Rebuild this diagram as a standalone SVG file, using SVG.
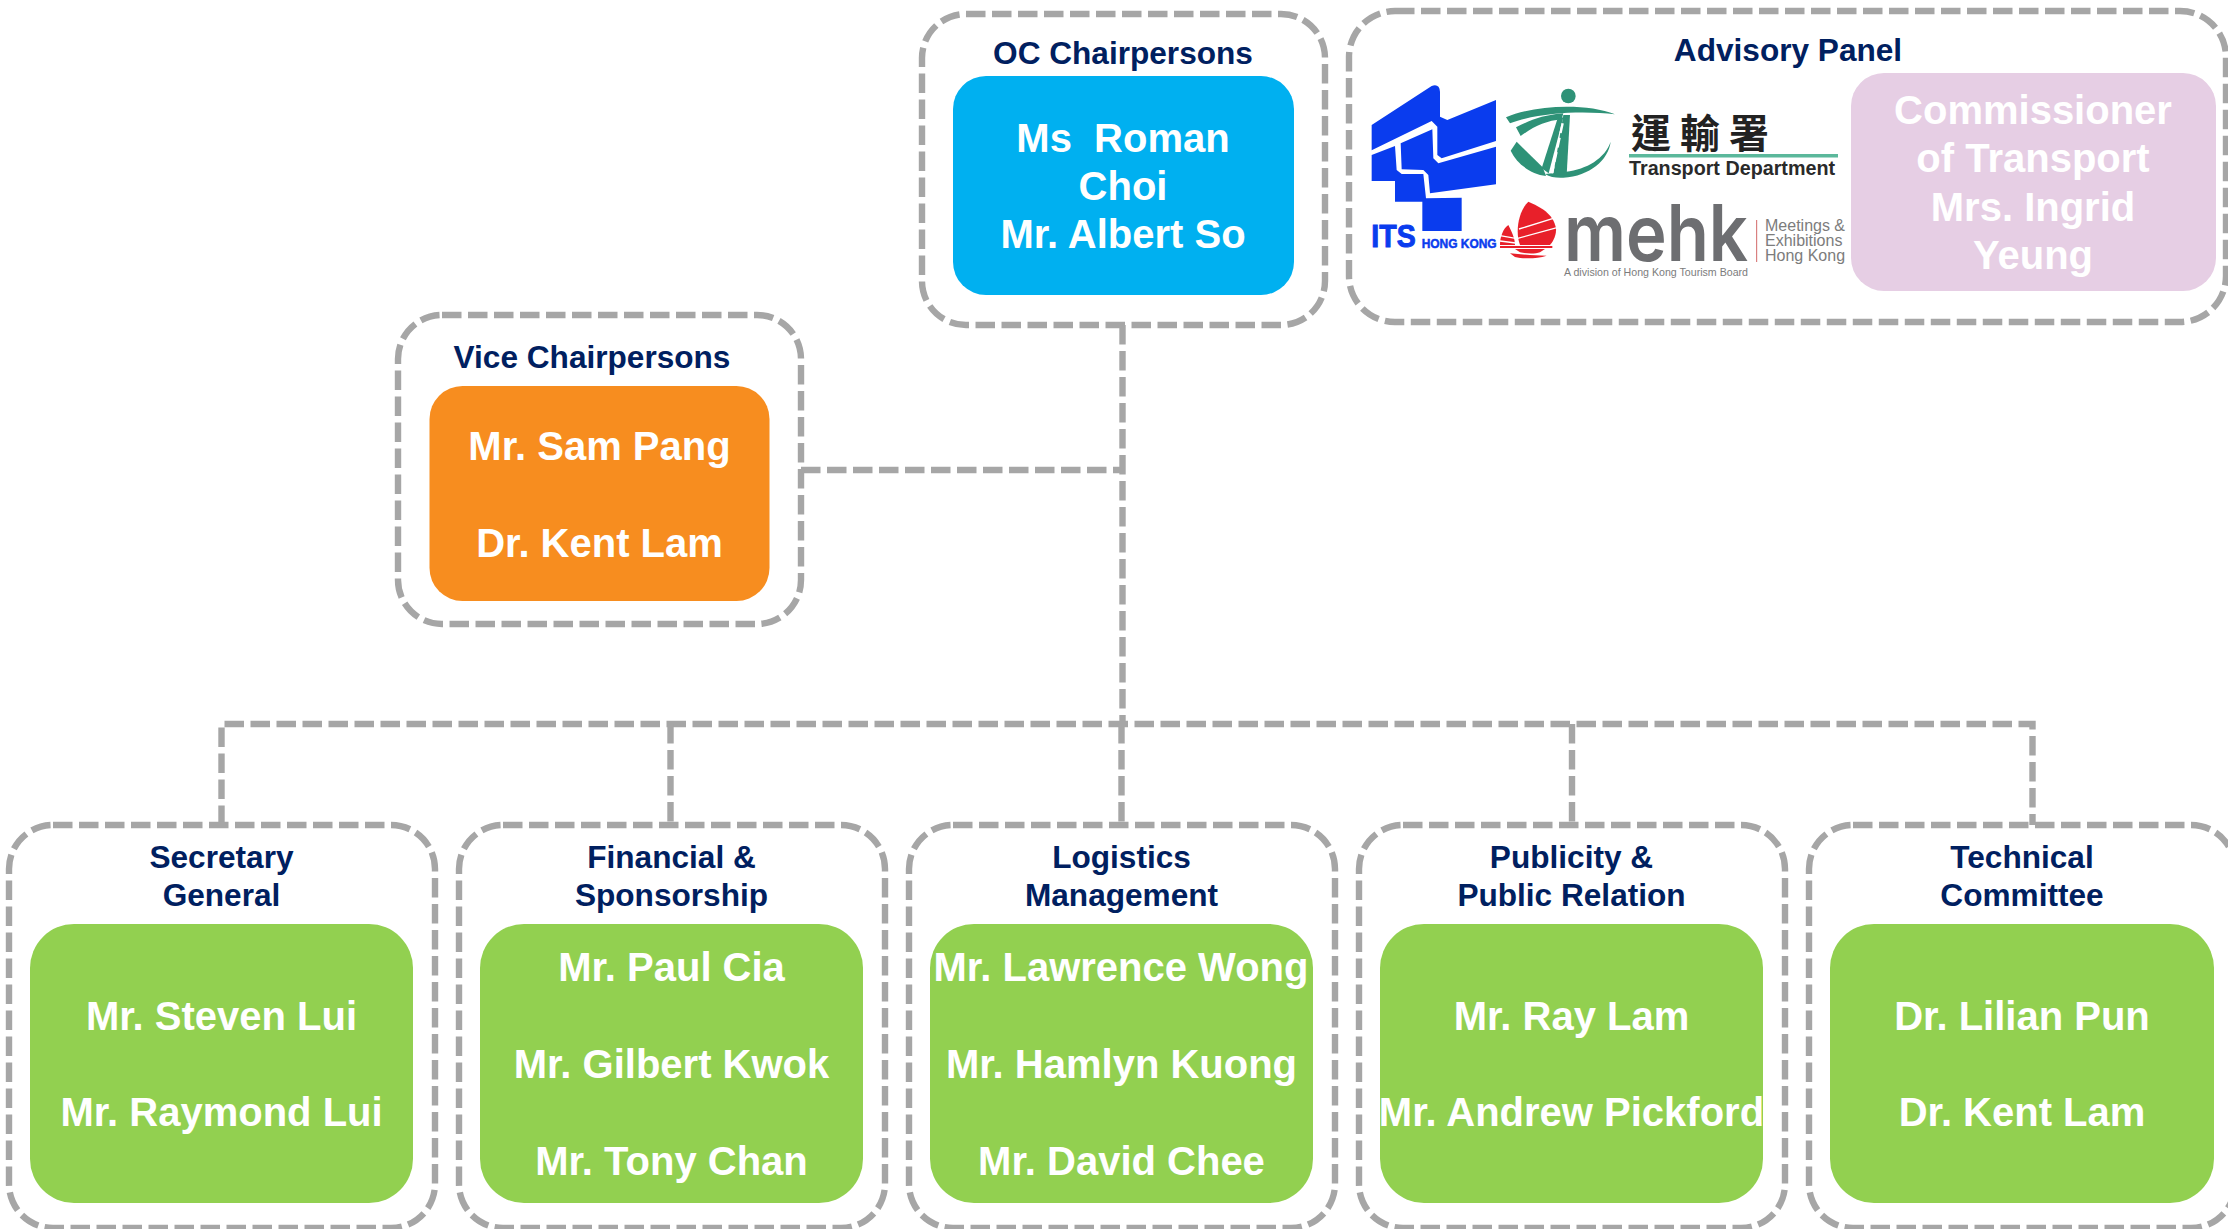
<svg xmlns="http://www.w3.org/2000/svg" width="2228" height="1229" viewBox="0 0 2228 1229">
<style>
text{font-family:"Liberation Sans",Arial,sans-serif;text-anchor:middle}
.frame{fill:none;stroke:#A6A6A6;stroke-width:6.4;stroke-dasharray:19.5 6.5}
.conn{fill:none;stroke:#A6A6A6;stroke-width:6.4;stroke-dasharray:19.5 6.5}
.head{font-weight:700;font-size:31.6px;fill:#002060}
.name{font-weight:700;font-size:40px;fill:#fff}
.green{fill:#92D050}
.its{fill:#0A3CEE}
.td{fill:#2E9277}
.red{fill:#E8202A}
.grey{fill:#6D6E71}
.small{fill:#7C7C7C;text-anchor:start}
</style>
<rect width="2228" height="1229" fill="#fff"/>
<g id="connectors">
<path class="conn" d="M1122.5 325V724"/>
<path class="conn" d="M801 470H1122.5"/>
<path class="conn" d="M1121.5 724V825"/>
<path class="conn" d="M221.5 825V724H2032.5V825"/>
<path class="conn" d="M670.5 724V825"/>
<path class="conn" d="M1572 724V825"/>
</g>
<g id="oc-chairpersons">
<rect class="frame" x="922" y="14" width="403" height="311" rx="44"/>
<text class="head" x="1123" y="64">OC Chairpersons</text>
<rect x="953" y="76" width="341" height="219" rx="33" fill="#00B0F0"/>
<text class="name" x="1123" y="152" xml:space="preserve">Ms  Roman</text>
<text class="name" x="1123" y="200">Choi</text>
<text class="name" x="1123" y="248">Mr. Albert So</text>
</g>
<g id="advisory-panel">
<rect class="frame" x="1349" y="11" width="877" height="311" rx="46"/>
<text class="head" x="1788" y="61">Advisory Panel</text>
<g id="logo-its" transform="translate(1360 75) scale(.33333)">
<path class="its" d="M35 150L215 33Q238 25 240 50V125L262 135L408 75V198L245 250L232 240V155L215 138L35 226Z"/>
<path class="its" d="M35 240L105 213L110 285L125 297H190L198 370L305 368V468H187V380H105V318H35Z"/>
<path class="its" d="M122 205L217 163L220 250L235 265L408 215V328L210 355L205 300L190 285L125 283Z"/>
<text x="34" y="517" font-size="94" font-weight="700" fill="#0A3CEE" stroke="#0A3CEE" stroke-width="3" textLength="133" lengthAdjust="spacingAndGlyphs" style="text-anchor:start">ITS</text>
<text x="185" y="520" font-size="40" font-weight="700" fill="#0A3CEE" stroke="#0A3CEE" stroke-width="1.5" textLength="225" lengthAdjust="spacingAndGlyphs" style="text-anchor:start">HONG KONG</text>
</g>
<g id="logo-transport" transform="translate(1500 80) scale(.33333)">
<circle class="td" cx="205" cy="48" r="22"/>
<path class="td" d="M18 112C100 75 260 68 345 103C260 92 120 95 30 130Z"/>
<path class="td" d="M48 142C90 120 130 105 190 100L185 118C140 122 100 140 62 168Z"/>
<path class="td" d="M50 185L128 262L138 288C90 282 50 250 32 212Z"/>
<path class="td" d="M135 282C150 292 170 294 190 293C270 288 325 240 332 185C315 235 260 268 198 275Z"/>
<path class="td" d="M172 118L190 112L146 280L125 265Z"/>
<path class="td" d="M190 105H210L200 285L160 282Z"/>
<path fill="none" stroke="#fff" stroke-width="7" stroke-dasharray="30 14" d="M188 130L156 280"/>
</g>
<text x="1631" y="148" font-size="40" font-weight="700" letter-spacing="9" fill="#222" style="font-family:'Noto Sans CJK TC','Liberation Sans',sans-serif;text-anchor:start">運輸署</text>
<rect x="1629" y="154" width="209" height="3.5" fill="#5BB89B"/>
<text x="1629" y="175" font-size="20" font-weight="700" fill="#2A2A2A" textLength="206" lengthAdjust="spacingAndGlyphs" style="text-anchor:start">Transport Department</text>
<g id="logo-junk" transform="translate(1495 195) scale(.33333)">
<path class="red" d="M100 20C135 35 175 55 183 100C185 125 170 145 165 150H75C60 110 70 50 100 20Z"/>
<path class="red" d="M40 90C50 110 60 130 60 150H15C15 125 25 100 40 90Z"/>
<path fill="none" stroke="#fff" stroke-width="4" d="M72 102L182 68M68 130L186 98M15 122L62 130M15 138L62 144"/>
<path class="red" d="M15 153H172V159H15Z"/>
<path class="red" d="M60 162H150L135 172C120 178 90 176 75 172Z"/>
<path class="red" d="M45 175C80 178 120 182 155 182C125 192 85 192 60 186Z"/>
</g>
<text class="grey" x="1564" y="260.7" font-size="78" font-weight="600" textLength="184" lengthAdjust="spacingAndGlyphs" style="font-family:Inter,'Liberation Sans',sans-serif;text-anchor:start">mehk</text>
<rect x="1756" y="220" width="1.2" height="42" fill="#D98080"/>
<text class="small" x="1765" y="231" font-size="16">Meetings &amp;</text>
<text class="small" x="1765" y="246" font-size="16">Exhibitions</text>
<text class="small" x="1765" y="261" font-size="16">Hong Kong</text>
<text class="small" x="1564" y="276" font-size="10.5" textLength="184" lengthAdjust="spacingAndGlyphs">A division of Hong Kong Tourism Board</text>
<rect x="1851" y="73" width="365" height="218" rx="33" fill="#E6CEE4"/>
<text class="name" x="2033" y="124">Commissioner</text>
<text class="name" x="2033" y="172">of Transport</text>
<text class="name" x="2033" y="220.5">Mrs. Ingrid</text>
<text class="name" x="2033" y="268.5">Yeung</text>
</g>
<g id="vice-chairpersons">
<rect class="frame" x="398" y="315" width="403" height="309" rx="44"/>
<text class="head" x="592" y="368">Vice Chairpersons</text>
<rect x="429.5" y="386" width="340" height="215" rx="33" fill="#F78D1F"/>
<text class="name" x="599.5" y="460">Mr. Sam Pang</text>
<text class="name" x="599.5" y="557">Dr. Kent Lam</text>
</g>
<g id="secretary-general">
<rect class="frame" x="9" y="825" width="426" height="403" rx="44"/>
<text class="head" x="221.5" y="868">Secretary</text>
<text class="head" x="221.5" y="906">General</text>
<rect class="green" x="30" y="924" width="383" height="279" rx="44"/>
<text class="name" x="221.5" y="1030">Mr. Steven Lui</text>
<text class="name" x="221.5" y="1126">Mr. Raymond Lui</text>
</g>
<g id="financial-sponsorship">
<rect class="frame" x="459" y="825" width="426" height="403" rx="44"/>
<text class="head" x="671.5" y="868">Financial &amp;</text>
<text class="head" x="671.5" y="906">Sponsorship</text>
<rect class="green" x="480" y="924" width="383" height="279" rx="44"/>
<text class="name" x="671.5" y="981">Mr. Paul Cia</text>
<text class="name" x="671.5" y="1078">Mr. Gilbert Kwok</text>
<text class="name" x="671.5" y="1175">Mr. Tony Chan</text>
</g>
<g id="logistics-management">
<rect class="frame" x="909" y="825" width="426" height="403" rx="44"/>
<text class="head" x="1121.5" y="868">Logistics</text>
<text class="head" x="1121.5" y="906">Management</text>
<rect class="green" x="930" y="924" width="383" height="279" rx="44"/>
<text class="name" x="1121" y="981">Mr. Lawrence Wong</text>
<text class="name" x="1121.5" y="1078">Mr. Hamlyn Kuong</text>
<text class="name" x="1121.5" y="1175">Mr. David Chee</text>
</g>
<g id="publicity-public-relation">
<rect class="frame" x="1359" y="825" width="426" height="403" rx="44"/>
<text class="head" x="1571.5" y="868">Publicity &amp;</text>
<text class="head" x="1571.5" y="906">Public Relation</text>
<rect class="green" x="1380" y="924" width="383" height="279" rx="44"/>
<text class="name" x="1571.5" y="1030">Mr. Ray Lam</text>
<text class="name" x="1571.5" y="1126">Mr. Andrew Pickford</text>
</g>
<g id="technical-committee">
<rect class="frame" x="1809" y="825" width="426" height="403" rx="44"/>
<text class="head" x="2022" y="868">Technical</text>
<text class="head" x="2022" y="906">Committee</text>
<rect class="green" x="1830" y="924" width="384" height="279" rx="44"/>
<text class="name" x="2022" y="1030">Dr. Lilian Pun</text>
<text class="name" x="2022" y="1126">Dr. Kent Lam</text>
</g>
</svg>
